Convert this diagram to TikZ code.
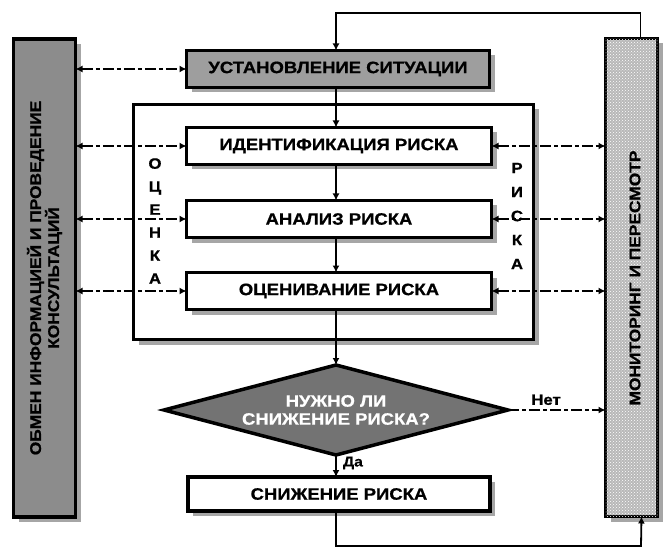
\documentclass[tikz,border=0pt]{standalone}
\usepackage{fontspec}
\setmainfont{Liberation Sans}
\newfontfamily\hv{Liberation Sans}[FakeStretch=1.12,FakeBold=0.8]
\usetikzlibrary{arrows.meta,shadows,patterns}
\begin{document}
\begin{tikzpicture}[x=1pt,y=-1pt,
  every node/.style={inner sep=0pt,outer sep=0pt},
  shad/.style={drop shadow={shadow xshift=5pt,shadow yshift=-5pt,opacity=1,fill=black!35}},
  box/.style={draw=black,line width=3.5pt,fill=white,shad,
    font=\hv\fontsize{16.5}{18}\selectfont\bfseries,minimum width=305pt,minimum height=37pt},
  vtext/.style={align=center},
  conn/.style={line width=1.8pt,-{Latex[length=7pt,width=7pt]}},
  dconn/.style={line width=1.8pt,dash pattern=on 11pt off 3pt on 4pt off 3pt,
    {Latex[length=7pt,width=7pt]}-{Latex[length=7pt,width=7pt]}},
  dconnr/.style={line width=1.8pt,dash pattern=on 11pt off 3pt on 4pt off 3pt,
    -{Latex[length=7pt,width=7pt]}}
]
\useasboundingbox (0,0) rectangle (669,548);

% side panels
\node[draw=black,line width=3.5pt,fill=black!45,shad,minimum width=62pt,minimum height=478pt]
  (lp) at (44.5,278) {};
\node[rotate=90,font=\hv\fontsize{15.5}{18}\selectfont\bfseries,align=center] (lptext) at (lp.center)
  {ОБМЕН ИНФОРМАЦИЕЙ И ПРОВЕДЕНИЕ\\КОНСУЛЬТАЦИЙ};
\node[draw=black,line width=3.5pt,fill=black!28,shad,minimum width=52pt,minimum height=478pt,
  postaction={pattern=crosshatch dots,pattern color=white}]
  (rp) at (631.5,277.5) {};
\node[rotate=90,font=\hv\fontsize{15.5}{17}\selectfont\bfseries] (rptext) at (635,278)
  {МОНИТОРИНГ И ПЕРЕСМОТР};

% frame
\node[draw=black,line width=3pt,fill=white,shad,minimum width=400pt,minimum height=235pt]
  (frame) at (333.5,222) {};
\node[vtext,font=\hv\fontsize{15}{23}\selectfont\bfseries] (ocenka) at (155,221) {О\\Ц\\Е\\Н\\К\\А};
\node[vtext,font=\hv\fontsize{15}{24}\selectfont\bfseries] (riska) at (517,216) {Р\\И\\С\\К\\А};

% boxes
\node[box,fill=black!38,minimum width=303pt] (top) at (338,69) {УСТАНОВЛЕНИЕ СИТУАЦИИ};
\node[box] (ident) at (339,146) {ИДЕНТИФИКАЦИЯ РИСКА};
\node[box] (anal) at (339,219) {АНАЛИЗ РИСКА};
\node[box] (eval) at (339,291) {ОЦЕНИВАНИЕ РИСКА};
\node[minimum width=344pt,minimum height=90pt] (dia) at (336,410) {};
\fill[black!55] (dia.west) -- (dia.north) -- (dia.east) -- (dia.south) -- cycle;
\node[align=center,text=white,font=\hv\fontsize{16.5}{18}\selectfont\bfseries] (diatext) at (dia.center)
  {НУЖНО ЛИ\\СНИЖЕНИЕ РИСКА?};
\draw[line width=3.5pt,line join=miter] (dia.west) -- (dia.north) -- (dia.east) -- (dia.south) -- cycle;
\node[box,minimum width=302pt,minimum height=34pt] (red) at (339,494) {СНИЖЕНИЕ РИСКА};

% main flow
\coordinate (ax) at (336,0);
\draw[conn] (top.south -| ax) -- (ident.north -| ax);
\draw[conn] (ident.south -| ax) -- (anal.north -| ax);
\draw[conn] (anal.south -| ax) -- (eval.north -| ax);
\draw[conn] (eval.south -| ax) -- (dia.north);
\draw[conn] (dia.south) -- (red.north -| ax);
\node[font=\hv\fontsize{14}{15}\selectfont\bfseries,anchor=west] (da) at (343,463) {Да};

% loops
\coordinate (tl) at (640,13);
\coordinate (bl) at (641,546);
\draw[conn] ([xshift=9pt]rp.north) |- (tl) -| (top.north -| ax);
\draw[conn] (red.south -| ax) |- (bl) -- ([xshift=10pt]rp.south);

% dashed links
\draw[dconn] (lp.east |- top) -- (top.west);
\draw[dconn] (lp.east |- ident) -- (ident.west);
\draw[dconn] (lp.east |- anal) -- (anal.west);
\draw[dconn] (lp.east |- eval) -- (eval.west);
\draw[dconn] (ident.east) -- (rp.west |- ident);
\draw[dconn] (anal.east) -- (rp.west |- anal);
\draw[dconn] (eval.east) -- (rp.west |- eval);
\draw[dconnr] (dia.east) -- (rp.west |- dia);
\node[font=\hv\fontsize{15}{16}\selectfont\bfseries,anchor=south] (net) at (546,405) {Нет};
\end{tikzpicture}
\end{document}
